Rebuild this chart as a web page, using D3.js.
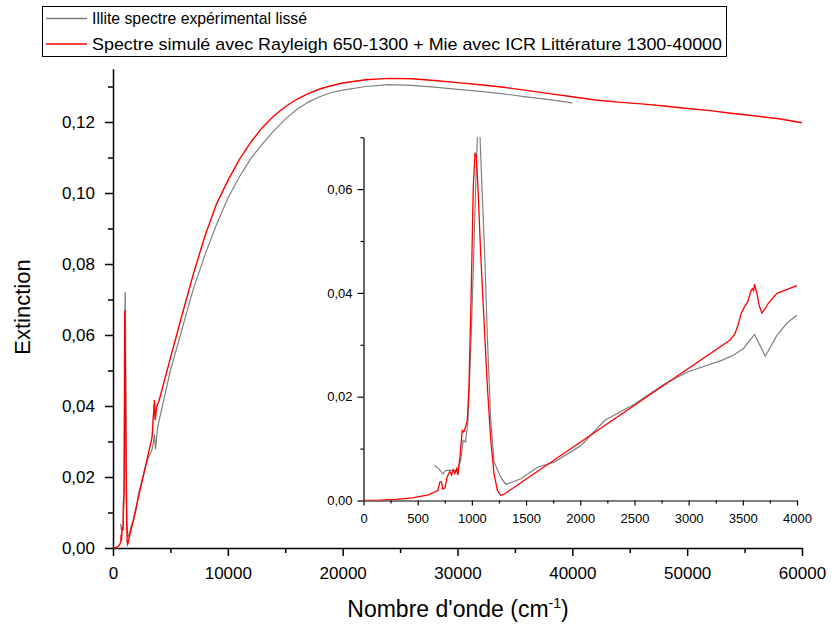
<!DOCTYPE html>
<html><head><meta charset="utf-8">
<script src="https://cdn.jsdelivr.net/npm/d3@7"></script>
<style>body{margin:0;background:#fff} text{font-family:"Liberation Sans",Arial,sans-serif;fill:#000}</style>
</head><body><svg id="c" width="834" height="628"></svg>
<script>
// ---- data ----
const redX = [0,150,300,450,600,685,705,720,730,752,773,797,813,828,843,859,871,890,911,925,935,958,973,995,1013,1029,1041,1056,1081,1112,1143,1174,1205,1236,1266,1297,
  3383,3429,3460,3484,3515,3546,3577,3589,3600,3608,3630,3651,3676,3707,3738,3815,4000,
  5000,6000,7000,8000,9000,10000,11000,12000,13000,14000,15000,16000,17000,18000,19000,20000,22000,24000,26000,28000,30000,32000,34000,36000,38000,40000,42000,44000,46000,48000,50000,52000,54000,56000,58000,60000];
const redY = [0,0.00005,0.0002,0.0005,0.0011,0.0019,0.0036,0.0036,0.0022,0.0024,0.0046,0.0056,0.0049,0.0059,0.0052,0.0061,0.0049,0.0084,0.0135,0.0132,0.0138,0.0154,0.0219,0.0412,0.0605,0.0670,0.0663,0.0605,0.0476,0.0347,0.0219,0.0116,0.0051,0.0019,0.0010,0.0012,
  0.0309,0.0322,0.0341,0.0360,0.0373,0.0383,0.0405,0.0408,0.0404,0.0417,0.0399,0.0376,0.0361,0.0370,0.0381,0.0399,0.0414,
  0.0535,0.0655,0.0772,0.0878,0.0968,0.1035,0.1094,0.1143,0.1184,0.1217,0.1243,0.1264,0.1280,0.1293,0.1302,0.1310,0.1319,0.1323,0.1322,0.1317,0.1311,0.1305,0.1298,0.1289,0.1280,0.1271,0.1262,0.1256,0.1251,0.1245,0.1238,0.1232,0.1224,0.1217,0.1209,0.1198];
const grayX = [655,695,735,757,803,865,896,920,942,964,988,1013,1035,1050,1062,1075,1097,1118,1143,1174,1205,1266,1313,1452,1606,1761,2008,2224,2502,2780,2996,3305,3413,3506,3608,3707,3815,3908,4000,
  5000,6000,7000,8000,9000,10000,11000,12000,13000,14000,15000,16000,17000,18000,19000,20000,22000,24000,26000,28000,30000,32000,34000,36000,38000,40000];
const grayY = [0.0068,0.0061,0.0051,0.0058,0.0058,0.0058,0.0077,0.0116,0.0113,0.0154,0.0283,0.0444,0.0605,0.0700,0.0722,0.0700,0.0585,0.0476,0.0315,0.0154,0.0074,0.0045,0.0031,0.0042,0.0064,0.0074,0.0106,0.0154,0.0186,0.0225,0.0248,0.0270,0.0280,0.0293,0.0320,0.0278,0.0318,0.0342,0.0357,
  0.0500,0.0615,0.0730,0.0825,0.0910,0.0985,0.1045,0.1097,0.1138,0.1175,0.1208,0.1235,0.1256,0.1271,0.1283,0.1290,0.1300,0.1305,0.1303,0.1298,0.1292,0.1286,0.1279,0.1271,0.1263,0.1254];
const seriesNames = ["Illite spectre expérimental lissé", "Spectre simulé avec Rayleigh 650-1300 + Mie avec ICR Littérature 1300-40000"];
const mainXTicks = [0,10000,20000,30000,40000,50000,60000];
const mainXMinor = [5000,15000,25000,35000,45000,55000];
const mainYTicks = [0,0.02,0.04,0.06,0.08,0.10,0.12];
const mainYMinor = [0.01,0.03,0.05,0.07,0.09,0.11,0.13];
const insXTicks = [0,500,1000,1500,2000,2500,3000,3500,4000];
const insXMinor = [250,750,1250,1750,2250,2750,3250,3750];
const insYTicks = [0,0.02,0.04,0.06];
const insYMinor = [0.01,0.03,0.05,0.07];

const red = redX.map((x,i)=>({x, y:redY[i]}));
const gray = grayX.map((x,i)=>({x, y:grayY[i]}));

const svg = d3.select("#c");
const loc = d3.formatLocale({decimal:",", thousands:"", grouping:[3], currency:["",""]});
const f2 = loc.format(".2f");

// main scales
const x = d3.scaleLinear().domain([0,60000]).range([113,802]);
const y = d3.scaleLinear().domain([0,0.135]).range([548,68.75]);

function styleAxis(g, w){
  g.select(".domain").attr("stroke","#000").attr("stroke-width",w);
  g.selectAll(".tick line").attr("stroke","#000").attr("stroke-width",w);
}

// main axes
let gx = svg.append("g").attr("transform","translate(0,548)")
  .call(d3.axisBottom(x).tickValues(mainXTicks).tickSize(8).tickSizeOuter(0).tickPadding(11).tickFormat(d=>String(d)));
gx.selectAll("text").attr("font-size",17);
styleAxis(gx,1.5);
let gxm = svg.append("g").attr("transform","translate(0,548)")
  .call(d3.axisBottom(x).tickValues(mainXMinor).tickSize(5).tickSizeOuter(0).tickFormat(""));
gxm.select(".domain").remove(); styleAxis(gxm,1.5);

let gy = svg.append("g").attr("transform","translate(113,0)")
  .call(d3.axisLeft(y).tickValues(mainYTicks).tickSize(8).tickSizeOuter(0).tickPadding(10).tickFormat(f2));
gy.selectAll("text").attr("font-size",17);
styleAxis(gy,1.5);
let gym = svg.append("g").attr("transform","translate(113,0)")
  .call(d3.axisLeft(y).tickValues(mainYMinor).tickSize(5).tickSizeOuter(0).tickFormat(""));
gym.select(".domain").remove(); styleAxis(gym,1.5);

// titles
const xt = svg.append("text").attr("x",458).attr("y",617).attr("text-anchor","middle").attr("font-size",23);
xt.append("tspan").text("Nombre d'onde (cm");
xt.append("tspan").attr("font-size",14).attr("dy",-9).text("-1");
xt.append("tspan").attr("dy",9).text(")");
svg.append("text").attr("transform","translate(30,307) rotate(-90)").attr("text-anchor","middle").attr("font-size",22).text("Extinction");

// main lines
const line = d3.line().x(d=>x(d.x)).y(d=>y(d.y));
svg.append("path").datum(gray).attr("d",line).attr("fill","none").attr("stroke","#808080").attr("stroke-width",1.2);
svg.append("path").datum(red).attr("d",line).attr("fill","none").attr("stroke","#ff0000").attr("stroke-width",1.4);

// inset
const ix = d3.scaleLinear().domain([0,4000]).range([363.5,797]);
const iy = d3.scaleLinear().domain([0,0.07]).range([500.5,137.2]);
svg.append("clipPath").attr("id","ic").append("rect").attr("x",363.5).attr("y",137.2).attr("width",434).attr("height",363.3);

let igx = svg.append("g").attr("transform","translate(0,500.5)")
  .call(d3.axisBottom(ix).tickValues(insXTicks).tickSize(5).tickSizeOuter(0).tickPadding(8).tickFormat(d=>String(d)));
igx.selectAll("text").attr("font-size",13);
styleAxis(igx,1.2);
let igxm = svg.append("g").attr("transform","translate(0,500.5)")
  .call(d3.axisBottom(ix).tickValues(insXMinor).tickSize(3).tickSizeOuter(0).tickFormat(""));
igxm.select(".domain").remove(); styleAxis(igxm,1.2);

let igy = svg.append("g").attr("transform","translate(363.5,0)")
  .call(d3.axisLeft(iy).tickValues(insYTicks).tickSize(6).tickSizeOuter(0).tickPadding(5).tickFormat(f2));
igy.selectAll("text").attr("font-size",13);
styleAxis(igy,1.2);
let igym = svg.append("g").attr("transform","translate(363.5,0)")
  .call(d3.axisLeft(iy).tickValues(insYMinor).tickSize(3).tickSizeOuter(0).tickFormat(""));
igym.select(".domain").remove(); styleAxis(igym,1.2);

const iline = d3.line().x(d=>ix(d.x)).y(d=>iy(d.y));
const ig = svg.append("g").attr("clip-path","url(#ic)");
ig.append("path").datum(gray.filter(d=>d.x<=4000)).attr("d",iline).attr("fill","none").attr("stroke","#808080").attr("stroke-width",1.2);
ig.append("path").datum(red.filter(d=>d.x<=4000)).attr("d",iline).attr("fill","none").attr("stroke","#ff0000").attr("stroke-width",1.3);

// legend
const lg = svg.append("g");
lg.append("rect").attr("x",42.5).attr("y",6.5).attr("width",684).attr("height",50).attr("fill","#fff").attr("stroke","#000").attr("stroke-width",1);
const lcolors = ["#808080","#ff0000"];
const lwidths = [215,630];
seriesNames.forEach((n,i)=>{
  const cy = 18.5 + i*25.5;
  lg.append("line").attr("x1",46).attr("x2",87).attr("y1",cy).attr("y2",cy).attr("stroke",lcolors[i]).attr("stroke-width",1.3);
  lg.append("text").attr("x",92).attr("y",cy).attr("dy","0.35em").attr("font-size",17)
    .attr("textLength",lwidths[i]).attr("lengthAdjust","spacingAndGlyphs").text(n);
});
</script></body></html>
